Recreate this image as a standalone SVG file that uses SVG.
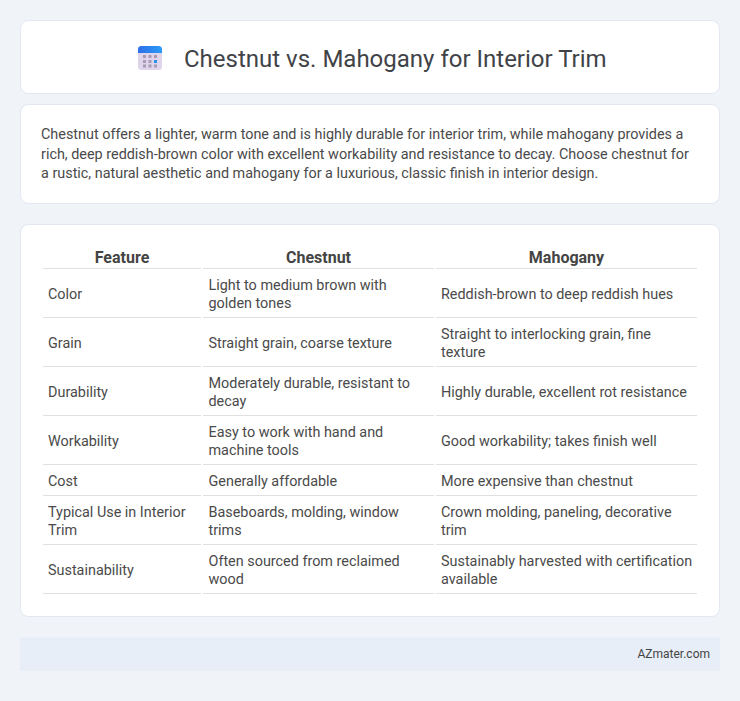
<svg xmlns="http://www.w3.org/2000/svg" width="740" height="701" viewBox="0 0 740 701">
<style>
text{font-family:Roboto,"Liberation Sans",sans-serif}
.card{fill:#fff;stroke:#e3e7f0;stroke-width:1}
.t{font-size:24px;fill:#3f4348}
.p{font-size:14.4px;fill:#4a4a4a}
.h{font-size:16px;font-weight:700;fill:#444;text-anchor:middle}
.c{font-size:14.4px;fill:#4a4a4a}
.l{stroke:#e0e0e0;stroke-width:1;fill:none}
.f{font-size:12px;fill:#444;text-anchor:end}
</style>
<defs><linearGradient id="top" x1="0" y1="0" x2="1" y2="0"><stop offset="0" stop-color="#2d6fe8"/><stop offset="1" stop-color="#2b9bf5"/></linearGradient></defs>
<rect width="740" height="701" fill="#f0f3f8"/>
<g id="header"><rect class="card" x="20.500" y="20.500" width="699" height="73" rx="8"/>
<g id="icon"><rect x="138" y="46" width="24" height="24" rx="3.500" fill="#dfd5ea"/><path d="M138 53v-3.500a3.500 3.500 0 0 1 3.500-3.500h17a3.500 3.500 0 0 1 3.500 3.500v3.500z" fill="url(#top)"/>
<g fill="#a99bb8"><rect x="143" y="55" width="3" height="3"/><rect x="148.500" y="55" width="3" height="3"/><rect x="154" y="55" width="3" height="3"/><rect x="143" y="60" width="3" height="3"/><rect x="148.500" y="60" width="3" height="3"/><rect x="143" y="64.500" width="3" height="3"/><rect x="148.500" y="64.500" width="3" height="3"/><rect x="154" y="64.500" width="3" height="3"/></g><rect x="154" y="60" width="3" height="3" fill="#2b8ff0"/></g>
<text class="t" x="184" y="67">Chestnut vs. Mahogany for Interior Trim</text></g>
<g id="summary"><rect class="card" x="20.500" y="104.500" width="699" height="99" rx="8"/>
<text class="p" x="41" y="139">Chestnut offers a lighter, warm tone and is highly durable for interior trim, while mahogany provides a</text>
<text class="p" x="41" y="158.500">rich, deep reddish-brown color with excellent workability and resistance to decay. Choose chestnut for</text>
<text class="p" x="41" y="178">a rustic, natural aesthetic and mahogany for a luxurious, classic finish in interior design.</text></g>
<g id="table"><rect class="card" x="20.500" y="224.500" width="699" height="392" rx="8"/>
<text class="h" x="122" y="263">Feature</text><text class="h" x="318.500" y="263">Chestnut</text><text class="h" x="566.500" y="263">Mahogany</text>
<g class="l"><path d="M43 268.500H201M203 268.500H434M436 268.500H697"/><path d="M43 317.500H201M203 317.500H434M436 317.500H697"/><path d="M43 366.500H201M203 366.500H434M436 366.500H697"/><path d="M43 415.500H201M203 415.500H434M436 415.500H697"/><path d="M43 464.500H201M203 464.500H434M436 464.500H697"/><path d="M43 495.500H201M203 495.500H434M436 495.500H697"/><path d="M43 544.500H201M203 544.500H434M436 544.500H697"/><path d="M43 593.500H201M203 593.500H434M436 593.500H697"/></g>
<g class="c">
<text x="48" y="299">Color</text><text x="208.500" y="290">Light to medium brown with</text><text x="208.500" y="308">golden tones</text><text x="441" y="299">Reddish-brown to deep reddish hues</text>
<text x="48" y="348">Grain</text><text x="208.500" y="348">Straight grain, coarse texture</text><text x="441" y="339">Straight to interlocking grain, fine</text><text x="441" y="357">texture</text>
<text x="48" y="397">Durability</text><text x="208.500" y="388">Moderately durable, resistant to</text><text x="208.500" y="406">decay</text><text x="441" y="397">Highly durable, excellent rot resistance</text>
<text x="48" y="446">Workability</text><text x="208.500" y="437">Easy to work with hand and</text><text x="208.500" y="455">machine tools</text><text x="441" y="446">Good workability; takes finish well</text>
<text x="48" y="486">Cost</text><text x="208.500" y="486">Generally affordable</text><text x="441" y="486">More expensive than chestnut</text>
<text x="48" y="517">Typical Use in Interior</text><text x="48" y="535">Trim</text><text x="208.500" y="517">Baseboards, molding, window</text><text x="208.500" y="535">trims</text><text x="441" y="517">Crown molding, paneling, decorative</text><text x="441" y="535">trim</text>
<text x="48" y="575">Sustainability</text><text x="208.500" y="566">Often sourced from reclaimed</text><text x="208.500" y="584">wood</text><text x="441" y="566">Sustainably harvested with certification</text><text x="441" y="584">available</text>
</g></g>
<g id="footer"><rect x="20" y="637.500" width="700" height="33.500" fill="#e8eef8"/><text class="f" x="710" y="658">AZmater.com</text></g>
</svg>
